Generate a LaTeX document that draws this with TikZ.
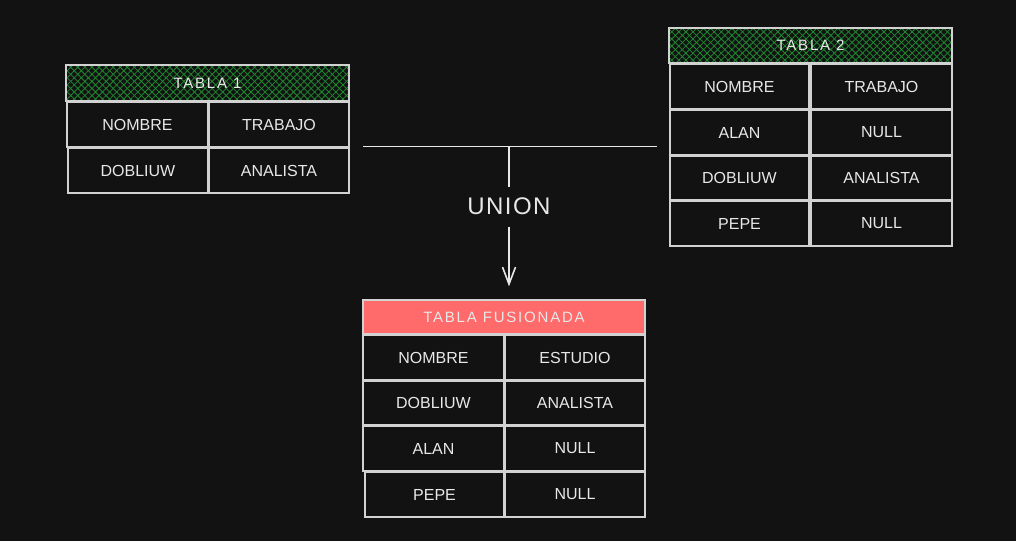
\documentclass[tikz,border=0pt]{standalone}
\usepackage{fontspec}
\setmainfont{Liberation Sans}
\usetikzlibrary{patterns.meta,arrows.meta,calc}
\definecolor{bg}{HTML}{121212}
\definecolor{edge}{HTML}{D2D2D2}
\definecolor{ink}{HTML}{E8E8E8}
\definecolor{hatch}{HTML}{1E8A30}
\definecolor{pink}{HTML}{FF6B6B}
\tikzset{
  cellbox/.style={draw=edge, line width=1.3pt, fill=bg, text=ink, inner sep=0pt,
    font=\fontsize{16}{19}\selectfont},
  greenhead/.style={draw=edge, line width=1.3pt, text=ink, inner sep=0pt,
    font=\fontsize{15}{18}\selectfont\addfontfeatures{LetterSpace=12},
    preaction={fill=bg},
    preaction={pattern={Lines[angle=45,distance=5pt,line width=0.8pt]}, pattern color=hatch},
    pattern={Lines[angle=-45,distance=5pt,line width=0.8pt]}, pattern color=hatch},
  pinkhead/.style={draw=edge, line width=1.3pt, fill=pink, text=ink, inner sep=0pt,
    font=\fontsize{15}{18}\selectfont\addfontfeatures{LetterSpace=12}},
  conn/.style={draw=ink, line width=1.6pt},
  lbl/.style={text=ink, font=\fontsize{24}{27}\selectfont\addfontfeatures{LetterSpace=6}, inner sep=0pt}
}
\begin{document}
\begin{tikzpicture}[x=1pt,y=-1pt]
\fill[bg] (0,0) rectangle (1016,541);
\useasboundingbox (0,0) rectangle (1016,541);

% Tabla 1
\node[greenhead, minimum width=283pt, minimum height=36pt] (t1h) at (207.5,83) {TABLA 1};
\node[cellbox, minimum width=141pt, minimum height=45pt] (t1a) at (137.5,124.5) {NOMBRE};
\node[cellbox, minimum width=140pt, minimum height=45pt] (t1b) at (279,124.5) {TRABAJO};
\node[cellbox, minimum width=140pt, minimum height=45pt] (t1c) at (138,170.5) {DOBLIUW};
\node[cellbox, minimum width=140pt, minimum height=45pt] (t1d) at (279,170.5) {ANALISTA};

% Tabla 2
\node[greenhead, minimum width=283pt, minimum height=35pt] (t2h) at (810.5,45.5) {TABLA 2};
\node[cellbox, minimum width=139pt, minimum height=45pt] (t2a) at (739.5,86.5) {NOMBRE};
\node[cellbox, minimum width=141pt, minimum height=45pt] (t2b) at (881.5,86.5) {TRABAJO};
\node[cellbox, minimum width=139pt, minimum height=45pt] (t2c) at (739.5,132.5) {ALAN};
\node[cellbox, minimum width=141pt, minimum height=45pt] (t2d) at (881.5,132.5) {NULL};
\node[cellbox, minimum width=139pt, minimum height=44pt] (t2e) at (739.5,178) {DOBLIUW};
\node[cellbox, minimum width=141pt, minimum height=44pt] (t2f) at (881.5,178) {ANALISTA};
\node[cellbox, minimum width=139pt, minimum height=45pt] (t2g) at (739.5,223.5) {PEPE};
\node[cellbox, minimum width=141pt, minimum height=45pt] (t2i) at (881.5,223.5) {NULL};

% Tabla fusionada
\node[pinkhead, minimum width=282pt, minimum height=34pt] (tfh) at (504,317) {TABLA FUSIONADA};
\node[cellbox, minimum width=141pt, minimum height=45pt] (tfa) at (433.5,357.5) {NOMBRE};
\node[cellbox, minimum width=140pt, minimum height=45pt] (tfb) at (575,357.5) {ESTUDIO};
\node[cellbox, minimum width=141pt, minimum height=44pt] (tfc) at (433.5,403) {DOBLIUW};
\node[cellbox, minimum width=140pt, minimum height=44pt] (tfd) at (575,403) {ANALISTA};
\node[cellbox, minimum width=141pt, minimum height=45pt] (tfe) at (433.5,448.5) {ALAN};
\node[cellbox, minimum width=140pt, minimum height=45pt] (tff) at (575,448.5) {NULL};
\node[cellbox, minimum width=139pt, minimum height=45pt] (tfg) at (434.5,494.5) {PEPE};
\node[cellbox, minimum width=140pt, minimum height=45pt] (tfi) at (575,494.5) {NULL};

% Union connector
\coordinate (jl) at (363,146.5);
\coordinate (jr) at (657,146.5);
\coordinate (jm) at (509,146.5);
\node[lbl] (union) at (509,206) {UNION};
\draw[conn] (jl) -- (jr);
\draw[conn] (jm) -- ($(union.north)+(0,-10)$);
\draw[conn, -{Straight Barb[length=17pt,width=13pt,line width=1.6pt]}]
  ($(union.south)+(0,12)$) -- ($(union.south |- tfh.north)+(0,-13)$);
\end{tikzpicture}
\end{document}
